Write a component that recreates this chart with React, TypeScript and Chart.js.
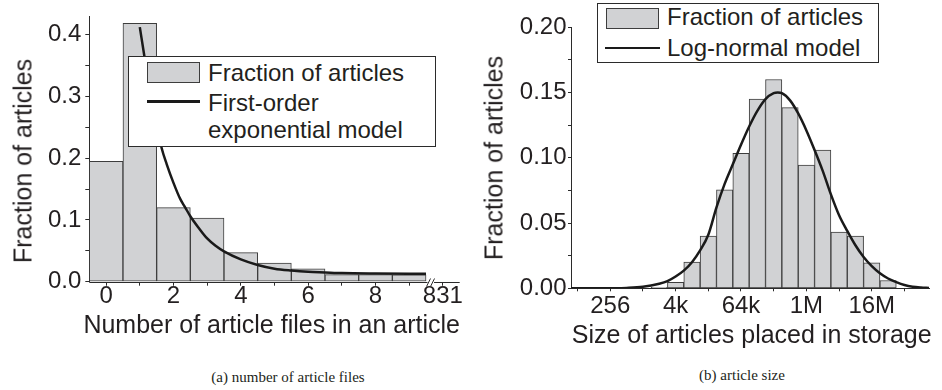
import React, { useEffect, useRef } from 'react';
import { Chart, registerables } from 'chart.js';

Chart.register(...registerables);

// ---- (a) number of article files per article ----
const fileCounts = [0, 1, 2, 3, 4, 5, 6, 7, 8, 9];
const fileFractions = [0.195, 0.418, 0.12, 0.103, 0.047, 0.03, 0.021, 0.0115, 0.0115, 0.011];

// first-order exponential model, sampled along the fitted curve
const expModelX = [1.0, 1.15, 1.3, 1.5, 1.65, 1.8, 2.0, 2.2, 2.35, 2.5, 2.75, 3.0, 3.25, 3.5, 4.0, 4.5, 5.0, 5.5, 6.0, 6.5, 7.0, 8.0, 9.0, 9.5];
const expModelY = [0.412, 0.36, 0.31, 0.255, 0.216, 0.19, 0.16, 0.134, 0.12, 0.106, 0.087, 0.07, 0.058, 0.049, 0.036, 0.027, 0.021, 0.018, 0.016, 0.015, 0.014, 0.0133, 0.013, 0.013];

const fileAxisTicks = [0, 1, 2, 3, 4, 5, 6, 7, 8, 9, 10];
const fileLabelPositions = [0, 2, 4, 6, 8, 10];
const fileLabels = ['0', '2', '4', '6', '8', '831'];

const leftYTicks = [0, 0.05, 0.1, 0.15, 0.2, 0.25, 0.3, 0.35, 0.4];
const leftYLabelPositions = [0, 0.1, 0.2, 0.3, 0.4];
const leftYLabels = ['0.0', '0.1', '0.2', '0.3', '0.4'];

// ---- (b) article size (bins are powers of two, stored as exponents) ----
const sizeExponents = [11, 12, 13, 14, 15, 16, 17, 18, 19, 20, 21, 22, 23, 24, 25];
const sizeFractions = [0.0008, 0.0046, 0.02, 0.04, 0.0755, 0.1035, 0.145, 0.16, 0.1385, 0.0945, 0.106, 0.043, 0.04, 0.0195, 0.006];

// log-normal model, sampled along the fitted curve (x = log2 of size)
const logNormalX = [5.6, 7.0, 8.0, 9.0, 10.0, 11.0, 11.5, 12.0, 12.5, 13.0, 13.5, 14.0, 14.5, 15.0, 15.5, 16.0, 16.5, 17.0, 17.5, 18.0, 18.25, 18.5, 19.0, 19.5, 20.0, 20.5, 21.0, 21.5, 22.0, 22.5, 23.0, 23.5, 24.0, 24.5, 25.0, 25.5, 26.0, 26.5, 27.0, 27.5];
const logNormalY = [0.0, 0.00003, 0.0001, 0.0003, 0.0011, 0.0035, 0.0055, 0.009, 0.0135, 0.02, 0.029, 0.041, 0.062, 0.08, 0.095, 0.11, 0.124, 0.136, 0.145, 0.1495, 0.15, 0.1495, 0.144, 0.134, 0.121, 0.106, 0.09, 0.072, 0.056, 0.044, 0.033, 0.024, 0.017, 0.0115, 0.0075, 0.0047, 0.0025, 0.0012, 0.0006, 0.0003];

const sizeAxisTicks = [6, 8, 10, 12, 14, 16, 18, 20, 22, 24, 26];
const sizeLabelPositions = [8, 12, 16, 20, 24];
const sizeLabels = ['256', '4k', '64k', '1M', '16M'];

const rightYTicks = [0, 0.025, 0.05, 0.075, 0.1, 0.125, 0.15, 0.175, 0.2];
const rightYLabelPositions = [0, 0.05, 0.1, 0.15, 0.2];
const rightYLabels = ['0.00', '0.05', '0.10', '0.15', '0.20'];

const SANS = '"Liberation Sans", Arial, Helvetica, sans-serif';
const SERIF = '"Liberation Serif", "Times New Roman", serif';
const INK = '#231f20';
const AXIS = '#2b2b2b';
const BAR_FILL = '#d1d2d4';
const BAR_EDGE = '#3d3d3d';
const CURVE = '#1a1a1a';

const labelFor = (positions: number[], labels: string[]) => (value: number | string) => {
  const v = Number(value);
  const i = positions.findIndex((p) => Math.abs(p - v) < 1e-9);
  return i >= 0 ? labels[i] : '';
};

const tickFont = { family: SANS, size: 24, lineHeight: 1 };

// Draws the bottom axis of the file-count chart with a break before the last tick.
const brokenAxisPlugin = {
  id: 'brokenAxis',
  afterDraw(chart: any) {
    const { ctx, chartArea, scales } = chart;
    const y = Math.round(chartArea.bottom) + 0.5;
    const breakAt = scales.x.getPixelForValue(9.5);
    ctx.save();
    ctx.strokeStyle = AXIS;
    ctx.lineWidth = 1;
    ctx.beginPath();
    ctx.moveTo(chartArea.left, y);
    ctx.lineTo(breakAt + 1.5, y);
    ctx.moveTo(breakAt + 8, y);
    ctx.lineTo(chartArea.right, y);
    ctx.stroke();
    ctx.beginPath();
    for (const dx of [2.5, 6.5]) {
      ctx.moveTo(breakAt + dx - 2, y + 4);
      ctx.lineTo(breakAt + dx + 2, y - 4);
    }
    ctx.stroke();
    ctx.restore();
  },
};

function makeFileChart(canvas: HTMLCanvasElement) {
  return new Chart(canvas, {
    type: 'bar',
    data: {
      datasets: [
        {
          type: 'line',
          data: expModelX.map((x, i) => ({ x, y: expModelY[i] })),
          borderColor: CURVE,
          borderWidth: 2.5,
          pointRadius: 0,
          cubicInterpolationMode: 'monotone',
          fill: false,
        } as any,
        {
          type: 'bar',
          data: fileCounts.map((x, i) => ({ x, y: fileFractions[i] })),
          backgroundColor: BAR_FILL,
          borderColor: BAR_EDGE,
          borderWidth: 1,
          borderSkipped: false,
          barPercentage: 1,
          categoryPercentage: 1,
        } as any,
      ],
    },
    options: {
      animation: false,
      responsive: false,
      events: [],
      layout: { padding: { top: 15.7, right: 10.3, left: 0, bottom: 0 } },
      plugins: { legend: { display: false }, tooltip: { enabled: false } },
      scales: {
        x: {
          type: 'linear',
          min: -0.5,
          max: 10.5,
          offset: false,
          afterBuildTicks: (s: any) => {
            s.ticks = fileAxisTicks.map((value) => ({ value }));
          },
          afterFit: (s: any) => {
            s.height = 320 - 281.7;
          },
          grid: { display: true, offset: false, drawOnChartArea: false, drawTicks: true, tickLength: 4, tickColor: AXIS, tickWidth: 1 },
          border: { display: false },
          ticks: {
            autoSkip: false,
            maxRotation: 0,
            minRotation: 0,
            padding: -1,
            color: INK,
            font: tickFont,
            callback: labelFor(fileLabelPositions, fileLabels),
          },
        },
        y: {
          type: 'linear',
          min: 0,
          max: 0.43,
          afterBuildTicks: (s: any) => {
            s.ticks = leftYTicks.map((value) => ({ value }));
          },
          afterFit: (s: any) => {
            s.width = 89.3;
          },
          grid: { display: true, drawOnChartArea: false, drawTicks: true, tickLength: 4, tickColor: AXIS, tickWidth: 1 },
          border: { display: true, color: AXIS, width: 1 },
          ticks: {
            autoSkip: false,
            padding: 4,
            color: INK,
            font: tickFont,
            callback: labelFor(leftYLabelPositions, leftYLabels),
          },
        },
      },
    } as any,
    plugins: [brokenAxisPlugin],
  });
}

function makeSizeChart(canvas: HTMLCanvasElement) {
  return new Chart(canvas, {
    type: 'bar',
    data: {
      datasets: [
        {
          type: 'line',
          data: logNormalX.map((x, i) => ({ x, y: logNormalY[i] })),
          borderColor: CURVE,
          borderWidth: 2.5,
          pointRadius: 0,
          cubicInterpolationMode: 'monotone',
          fill: false,
        } as any,
        {
          type: 'bar',
          data: sizeExponents.map((x, i) => ({ x, y: sizeFractions[i] })),
          backgroundColor: BAR_FILL,
          borderColor: BAR_EDGE,
          borderWidth: 1,
          borderSkipped: false,
          barPercentage: 1,
          categoryPercentage: 1,
        } as any,
      ],
    },
    options: {
      animation: false,
      responsive: false,
      events: [],
      layout: { padding: { top: 27.3, right: 12.7, left: 0, bottom: 0 } },
      plugins: { legend: { display: false }, tooltip: { enabled: false } },
      scales: {
        x: {
          type: 'linear',
          min: 5.6,
          max: 27.52,
          offset: false,
          afterBuildTicks: (s: any) => {
            s.ticks = sizeAxisTicks.map((value) => ({ value }));
          },
          afterFit: (s: any) => {
            s.height = 320 - 288.3;
          },
          grid: { display: true, offset: false, drawOnChartArea: false, drawTicks: true, tickLength: 3, tickColor: AXIS, tickWidth: 1 },
          border: { display: true, color: AXIS, width: 1 },
          ticks: {
            autoSkip: false,
            maxRotation: 0,
            minRotation: 0,
            padding: 3.4,
            color: INK,
            font: tickFont,
            callback: labelFor(sizeLabelPositions, sizeLabels),
          },
        },
        y: {
          type: 'linear',
          min: 0,
          max: 0.2,
          afterBuildTicks: (s: any) => {
            s.ticks = rightYTicks.map((value) => ({ value }));
          },
          afterFit: (s: any) => {
            s.width = 101;
          },
          grid: { display: true, drawOnChartArea: false, drawTicks: true, tickLength: 3, tickColor: AXIS, tickWidth: 1 },
          border: { display: true, color: AXIS, width: 1 },
          ticks: {
            autoSkip: false,
            padding: 1.5,
            color: INK,
            font: tickFont,
            callback: labelFor(rightYLabelPositions, rightYLabels),
          },
        },
      },
    } as any,
  });
}

const textAt = (x: number, y: number, size: number, rotate = false, family = SANS): React.CSSProperties => ({
  position: 'absolute',
  left: x,
  top: y,
  transform: `translate(-50%, -50%)${rotate ? ' rotate(-90deg)' : ''}`,
  whiteSpace: 'nowrap',
  fontFamily: family,
  fontSize: size,
  lineHeight: 1,
  color: INK,
});

const legendText = (x: number, cy: number): React.CSSProperties => ({
  position: 'absolute',
  left: x,
  top: cy - 12,
  whiteSpace: 'nowrap',
  fontFamily: SANS,
  fontSize: 24,
  lineHeight: 1,
  color: INK,
});

const box = (x: number, y: number, w: number, h: number, extra: React.CSSProperties): React.CSSProperties => ({
  position: 'absolute',
  left: x,
  top: y,
  width: w,
  height: h,
  boxSizing: 'border-box',
  ...extra,
});

export default function App() {
  const leftRef = useRef<HTMLCanvasElement>(null);
  const rightRef = useRef<HTMLCanvasElement>(null);

  useEffect(() => {
    const a = makeFileChart(leftRef.current!);
    const b = makeSizeChart(rightRef.current!);
    return () => {
      a.destroy();
      b.destroy();
    };
  }, []);

  return (
    <div style={{ position: 'absolute', left: 0, top: 0, width: 942, height: 390, background: '#fff', overflow: 'hidden' }}>
      <canvas ref={leftRef} width={470} height={320} style={{ position: 'absolute', left: 0, top: 0 }} />
      <canvas ref={rightRef} width={472} height={320} style={{ position: 'absolute', left: 470, top: 0 }} />

      {/* axis titles */}
      <div style={textAt(22.5, 161, 25, true)}>Fraction of articles</div>
      <div style={textAt(271.7, 324, 25)}>Number of article files in an article</div>
      <div style={textAt(494, 157.5, 25, true)}>Fraction of articles</div>
      <div style={textAt(751.7, 334, 25)}>Size of articles placed in storage</div>

      {/* legend of (a) */}
      <div style={box(128, 56, 308, 91, { border: `1px solid ${AXIS}`, background: '#fff' })} />
      <div style={box(147, 62, 53, 21, { border: `1px solid ${BAR_EDGE}`, background: BAR_FILL })} />
      <div style={legendText(208, 73)}>Fraction of articles</div>
      <div style={box(147, 100, 53, 2.5, { background: CURVE })} />
      <div style={legendText(208, 102.5)}>First-order</div>
      <div style={legendText(208, 130)}>exponential model</div>

      {/* legend of (b) */}
      <div style={box(597, 3, 282, 60, { border: `1px solid ${AXIS}`, background: '#fff' })} />
      <div style={box(606, 7.5, 53, 21, { border: `1px solid ${BAR_EDGE}`, background: BAR_FILL })} />
      <div style={legendText(667, 17)}>Fraction of articles</div>
      <div style={box(605, 46.5, 55, 2.5, { background: CURVE })} />
      <div style={legendText(667, 48)}>Log-normal model</div>

      {/* captions */}
      <div style={textAt(288, 377, 15, false, SERIF)}>(a) number of article files</div>
      <div style={textAt(742, 375, 15, false, SERIF)}>(b) article size</div>
    </div>
  );
}
